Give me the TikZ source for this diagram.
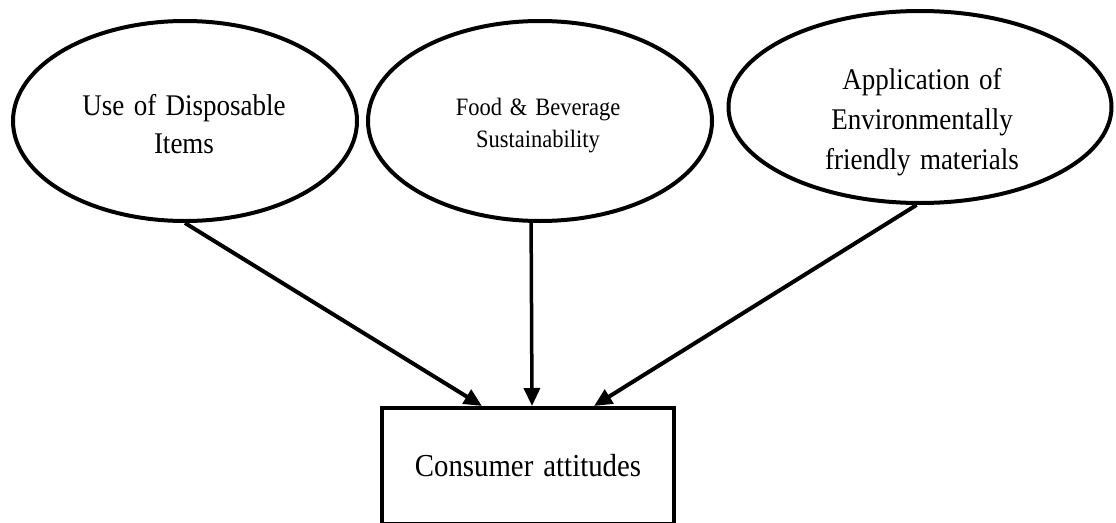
\documentclass[tikz,border=0pt]{standalone}
\usepackage{fontspec}
\setmainfont{Liberation Serif}[FakeStretch=0.9,WordSpace=1.4]
\usetikzlibrary{arrows.meta,calc,shapes.geometric}
\begin{document}
\begin{tikzpicture}[x=1pt,y=-1pt,
  oval/.style={draw,line width=4pt,ellipse,inner sep=0pt,align=center},
  boxnode/.style={draw,line width=4pt,rectangle,inner sep=0pt,align=center,
    minimum width=292pt,minimum height=116pt},
  arr/.style={line width=4pt,-{Triangle[length=18pt,width=16pt]}}]
\useasboundingbox (0,0) rectangle (1116,522);
\clip (0,0) rectangle (1116,522);
\fill[white] (0,0) rectangle (1116,522);
\node[oval,minimum width=344pt,minimum height=200pt] (e1) at (185,121) {};
\node[oval,minimum width=344pt,minimum height=200pt] (e2) at (540,121) {};
\node[oval,minimum width=383pt,minimum height=192pt] (e3) at (920,107) {};
\node[align=center,font=\fontsize{30}{38}\selectfont] (t1) at (184,124) {Use of Disposable\\Items};
\node[align=center,font=\fontsize{25}{32}\selectfont] (t2) at (538,126) {Food \& Beverage\\Sustainability};
\node[align=center,font=\fontsize{30}{40}\selectfont] (t3) at (922,122) {Application of\\Environmentally\\friendly materials};
\node[boxnode,font=\fontsize{32}{38}\selectfont] (box) at (528,466) {Consumer attitudes};
\draw[arr] (e1.south) -- ($(box.north)+(-46,0)$);
\draw[arr,line width=3.5pt] (e2.265) -- ($(box.north)+(4,0)$);
\draw[arr] (e3.-92) -- ($(box.north)+(66,0)$);
\end{tikzpicture}
\end{document}
